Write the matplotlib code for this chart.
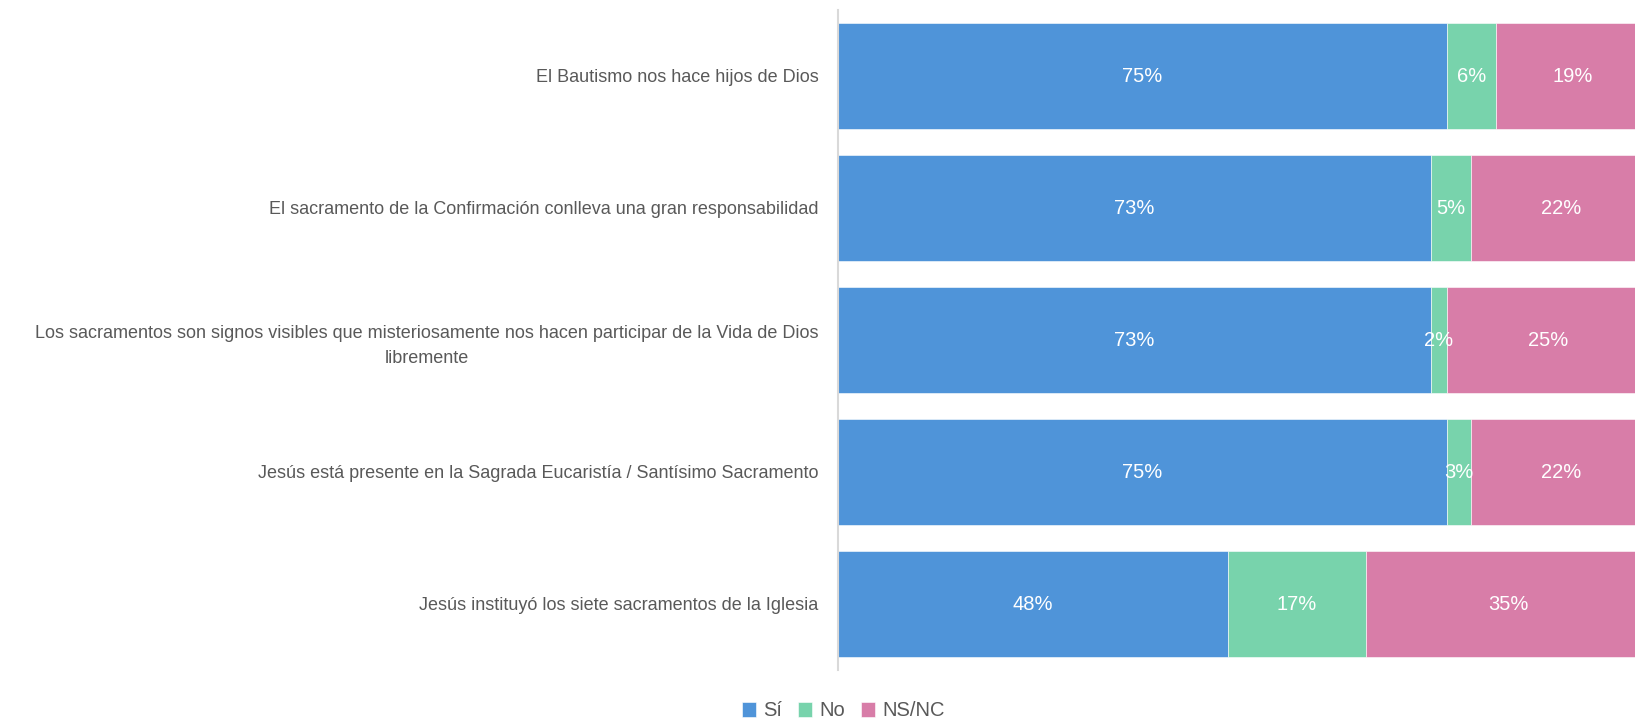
import matplotlib.pyplot as plt

categorias = [
	"El Bautismo nos hace hijos de Dios",
	"El sacramento de la Confirmación conlleva una gran responsabilidad",
	"Los sacramentos son signos visibles que misteriosamente nos hacen participar de la Vida de Dios\nlibremente",
	"Jesús está presente en la Sagrada Eucaristía / Santísimo Sacramento",
	"Jesús instituyó los siete sacramentos de la Iglesia",
]
si = [75, 73, 73, 75, 48]
no = [6, 5, 2, 3, 17]
nsnc = [19, 22, 25, 22, 35]
series = ["Sí", "No", "NS/NC"]
colores = ["#4F94D9", "#78D3AC", "#D87DA8"]

fig = plt.figure(figsize=(16.35, 7.22), dpi=100)
ax = fig.add_axes([838/1635, 1 - 670/722, 812/1635, 660/722])

y = list(range(len(categorias)))
izq = [0] * len(categorias)
for vals, nombre, col in zip([si, no, nsnc], series, colores):
	bars = ax.barh(y, vals, left=izq, height=0.8, color=col, label=nombre,
		edgecolor="white", linewidth=0.4)
	for b, v in zip(bars, vals):
		ax.text(b.get_x() + b.get_width() / 2, b.get_y() + b.get_height() / 2,
			"%d%%" % v, ha="center", va="center", color="white",
			fontsize=14.5, family="Liberation Sans")
	izq = [a + b for a, b in zip(izq, vals)]

ax.set_xlim(0, 100)
ax.set_ylim(len(categorias) - 0.5, -0.5)
ax.set_yticks(y)
ax.set_yticklabels(categorias, fontsize=13, family="Liberation Sans", color="#595959",
	multialignment="center", linespacing=1.6)
ax.tick_params(axis="y", length=0, pad=14)
ax.set_xticks([])
for s in ["top", "right", "bottom"]:
	ax.spines[s].set_visible(False)
ax.spines["left"].set_color("#D9D9D9")
ax.spines["left"].set_linewidth(1.5)

fig.legend(loc="center", bbox_to_anchor=(843/1635, 1 - 711/722), ncol=3,
	frameon=False, handlelength=0.7, handleheight=0.7, handletextpad=0.35,
	columnspacing=0.8, prop={"family": "Liberation Sans", "size": 14.5},
	labelcolor="#595959")

plt.savefig("out.png", dpi=100)
